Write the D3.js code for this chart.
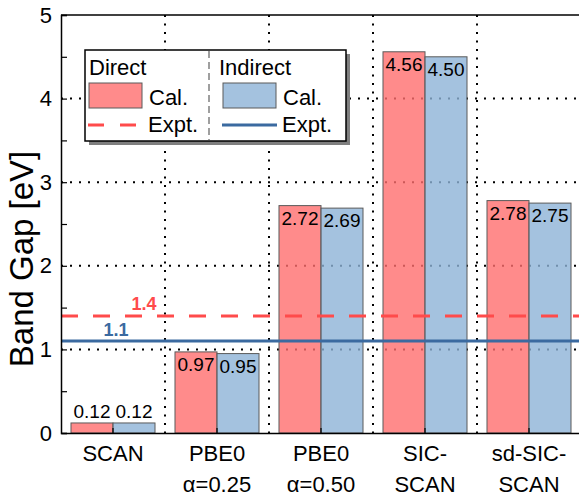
<html>
<head>
    <script src="https://d3js.org/d3.v7.min.js"></script>
</head>
<style>
    body { margin: 0; background: white; font-family: "Liberation Sans", Arial, sans-serif; }
    text { font-family: "Liberation Sans", Arial, sans-serif; fill: black; }
</style>
<body>
<div id="chart"></div>
<script>
    // data
    const categories = ["SCAN", "PBE0|α=0.25", "PBE0|α=0.50", "SIC-|SCAN", "sd-SIC-|SCAN"];
    const directGap = [0.12, 0.97, 2.72, 4.56, 2.78];
    const indirectGap = [0.12, 0.95, 2.69, 4.50, 2.75];
    const exptDirect = 1.4;
    const exptIndirect = 1.1;
    const yTicks = [0, 1, 2, 3, 4, 5];
    const yMinorTicks = [0.5, 1.5, 2.5, 3.5, 4.5];
    const yGrid = [1, 2, 3, 4];

    const W = 579, H = 496;
    const plot = {left: 61, right: 581, top: 15, bottom: 433};

    const redFill = "rgb(255,110,110)", blueFill = "rgb(141,179,215)";
    const redLine = "#ff4b4b", blueLine = "#3b6aa0";

    const svg = d3.select("#chart").append("svg")
        .attr("width", W).attr("height", H);

    const x0 = d3.scaleBand().domain(categories).range([plot.left, plot.right]);
    const x1 = d3.scaleBand().domain(["direct", "indirect"])
        .range([0, x0.bandwidth()]).paddingInner(0).paddingOuter(0.238);
    const y = d3.scaleLinear().domain([0, 5]).range([plot.bottom, plot.top]);

    const rows = categories.map((c, i) => ({cat: c, direct: directGap[i], indirect: indirectGap[i]}));

    // horizontal grid (dotted)
    svg.append("g").selectAll("line").data(yGrid).join("line")
        .attr("x1", plot.left).attr("x2", plot.right)
        .attr("y1", d => y(d)).attr("y2", d => y(d))
        .attr("stroke", "black").attr("stroke-width", 2)
        .attr("stroke-dasharray", "2,7");

    // vertical grid between categories
    svg.append("g").selectAll("line").data(categories.slice(1)).join("line")
        .attr("x1", d => x0(d)).attr("x2", d => x0(d))
        .attr("y1", plot.top).attr("y2", plot.bottom)
        .attr("stroke", "black").attr("stroke-width", 2)
        .attr("stroke-dasharray", "2,6.5");

    // bars
    const groups = svg.append("g").selectAll("g").data(rows).join("g")
        .attr("transform", d => `translate(${x0(d.cat)},0)`);

    groups.selectAll("rect")
        .data(d => [{k: "direct", v: d.direct}, {k: "indirect", v: d.indirect}])
        .join("rect")
        .attr("x", d => x1(d.k))
        .attr("y", d => y(d.v))
        .attr("width", x1.bandwidth())
        .attr("height", d => y(0) - y(d.v))
        .attr("fill", d => d.k === "direct" ? redFill : blueFill)
        .attr("fill-opacity", 0.8)
        .attr("stroke", "#5a5a5a").attr("stroke-width", 1);

    groups.selectAll("text.val")
        .data(d => [{k: "direct", v: d.direct}, {k: "indirect", v: d.indirect}])
        .join("text")
        .attr("class", "val")
        .attr("x", d => x1(d.k) + x1.bandwidth() / 2)
        .attr("y", d => d.v < 0.5 ? y(d.v) - 5 : y(d.v) + 19)
        .attr("text-anchor", "middle")
        .style("font-size", "19px")
        .text(d => d.v.toFixed(2));

    // experimental lines
    svg.append("line")
        .attr("x1", plot.left).attr("x2", plot.right)
        .attr("y1", y(exptDirect)).attr("y2", y(exptDirect))
        .attr("stroke", redLine).attr("stroke-width", 3)
        .attr("stroke-dasharray", "17,15");
    svg.append("line")
        .attr("x1", plot.left).attr("x2", plot.right)
        .attr("y1", y(exptIndirect)).attr("y2", y(exptIndirect))
        .attr("stroke", blueLine).attr("stroke-width", 3);

    svg.append("text")
        .attr("x", 144).attr("y", y(exptDirect) - 6)
        .attr("text-anchor", "middle")
        .style("font-size", "18px").style("font-weight", "bold").style("fill", redLine)
        .text(exptDirect.toFixed(1));
    svg.append("text")
        .attr("x", 116).attr("y", y(exptIndirect) - 5)
        .attr("text-anchor", "middle")
        .style("font-size", "18px").style("font-weight", "bold").style("fill", blueLine)
        .text(exptIndirect.toFixed(1));

    // frame
    svg.append("line").attr("x1", plot.left).attr("x2", plot.right)
        .attr("y1", plot.top).attr("y2", plot.top)
        .attr("stroke", "black").attr("stroke-width", 1.5);

    // y axis
    const yAxis = svg.append("g")
        .attr("transform", `translate(${plot.left},0)`)
        .call(d3.axisLeft(y).tickValues(yTicks).tickSize(-6).tickPadding(9).tickFormat(d3.format("d")));
    yAxis.select(".domain").attr("stroke-width", 1.5);
    yAxis.selectAll(".tick line").attr("stroke-width", 1.2);
    yAxis.selectAll("text").style("font-size", "22px")
        .style("font-family", "'Liberation Sans', Arial, sans-serif");

    svg.append("g")
        .attr("transform", `translate(${plot.left},0)`)
        .call(d3.axisLeft(y).tickValues(yMinorTicks).tickSize(-6).tickFormat(""))
        .call(g => g.select(".domain").remove())
        .selectAll(".tick line").attr("stroke-width", 1.2);

    // x axis
    const xAxis = svg.append("g")
        .attr("transform", `translate(0,${plot.bottom})`)
        .call(d3.axisBottom(x0).tickSize(-5).tickSizeOuter(0).tickPadding(0));
    xAxis.select(".domain").attr("stroke-width", 1.5);
    xAxis.selectAll(".tick line").attr("stroke-width", 1.2);
    xAxis.selectAll(".tick text")
        .style("font-size", "22px")
        .style("font-family", "'Liberation Sans', Arial, sans-serif")
        .attr("y", 0).attr("dy", null)
        .each(function(d) {
            const lines = d.split("|");
            const t = d3.select(this).text(null);
            lines.forEach((s, i) => {
                t.append("tspan").attr("x", 0).attr("y", 28 + i * 31).text(s);
            });
        });

    // y title
    svg.append("text")
        .attr("transform", `translate(33,${(plot.top + plot.bottom) / 2 + 35}) rotate(-90)`)
        .attr("text-anchor", "middle")
        .style("font-size", "33px")
        .text("Band Gap [eV]");

    // legend
    const lg = svg.append("g");
    lg.append("rect").attr("x", 89).attr("y", 54).attr("width", 261).attr("height", 91)
        .attr("fill", "#7f7f7f");
    lg.append("rect").attr("x", 85).attr("y", 50).attr("width", 261).attr("height", 91)
        .attr("fill", "white").attr("stroke", "black").attr("stroke-width", 1.5);
    lg.append("line").attr("x1", 209).attr("x2", 209).attr("y1", 51).attr("y2", 140)
        .attr("stroke", "#808080").attr("stroke-width", 1.5).attr("stroke-dasharray", "7,4");

    const legendCols = [
        {title: "Direct", x: 89, fill: redFill, line: redLine, dash: "16,16"},
        {title: "Indirect", x: 219, fill: blueFill, line: blueLine, dash: null}
    ];
    legendCols.forEach((c, i) => {
        const sx = i === 0 ? 89 : 223;
        lg.append("text").attr("x", c.x).attr("y", 75).style("font-size", "22px").text(c.title);
        lg.append("rect").attr("x", sx).attr("y", 83).attr("width", 53).attr("height", 25)
            .attr("fill", c.fill).attr("fill-opacity", 0.8)
            .attr("stroke", "#5a5a5a").attr("stroke-width", 1);
        lg.append("text").attr("x", sx + 60).attr("y", 105).style("font-size", "22px").text("Cal.");
        lg.append("line").attr("x1", sx - 1).attr("x2", sx + 54).attr("y1", 125).attr("y2", 125)
            .attr("stroke", c.line).attr("stroke-width", 3)
            .attr("stroke-dasharray", c.dash);
        lg.append("text").attr("x", sx + 59).attr("y", 132).style("font-size", "22px").text("Expt.");
    });
</script>
</body>
</html>
